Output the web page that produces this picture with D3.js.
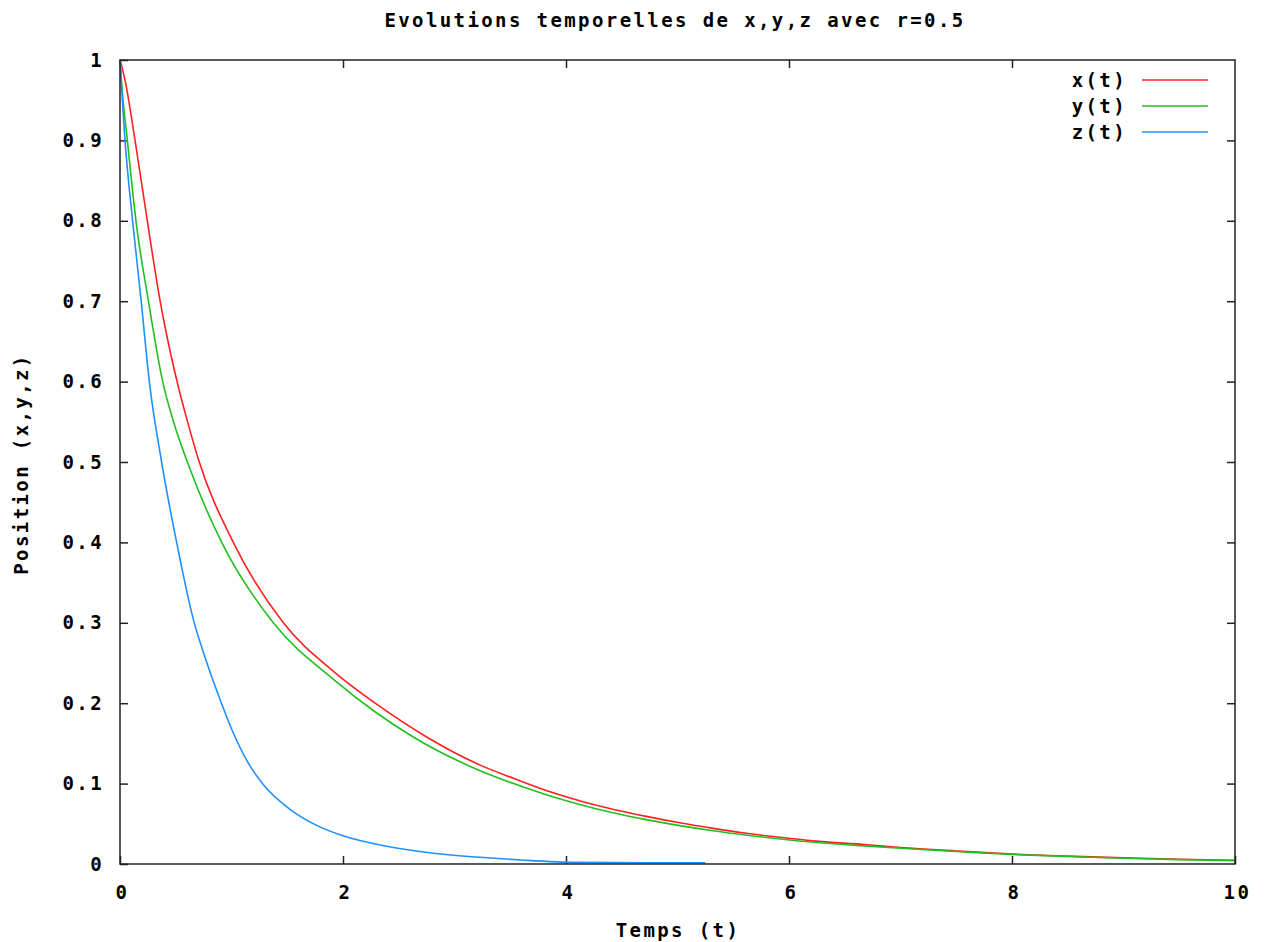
<!DOCTYPE html>
<html>
<head>
<meta charset="utf-8">
<script src="https://cdn.jsdelivr.net/npm/d3@7"></script>
<style>
  body { margin: 0; background: #fff; }
  text { font-family: "DejaVu Sans Mono", monospace; font-weight: bold; font-size: 19px; letter-spacing: 2.4px; fill: #000; }
</style>
</head>
<body>
<div id="chart"></div>
<script>
// valeurs (t, valeur)
const tX = [0, 0.045, 0.135, 0.245, 0.36, 0.42, 0.5, 0.6, 0.711, 1.016, 1.465, 1.92, 2.33, 2.75, 3.23, 3.53, 3.83, 4.13, 4.42, 4.72, 5.02, 5.32, 5.62, 5.92, 6.22, 6.67, 7, 7.5, 8, 8.5, 9, 9.5, 10];
const xVals = [1, 0.975, 0.9, 0.8, 0.7, 0.657, 0.607, 0.553, 0.5, 0.4, 0.3, 0.239, 0.196, 0.158, 0.123, 0.1066, 0.0912, 0.0784, 0.0682, 0.0592, 0.0512, 0.0443, 0.0382, 0.0332, 0.0288, 0.0242, 0.0205, 0.0162, 0.0124, 0.0098, 0.0076, 0.0059, 0.0046];

const tY = [0, 0.02, 0.066, 0.143, 0.255, 0.383, 0.48, 0.604, 0.912, 1.375, 1.92, 2.28, 2.63, 3.23, 3.53, 3.83, 4.13, 4.42, 4.72, 5.02, 5.32, 5.62, 5.92, 6.22, 6.67, 7, 7.5, 8, 8.5, 9, 9.5, 10];
const yVals = [1, 0.962, 0.9, 0.8, 0.7, 0.6, 0.55, 0.5, 0.4, 0.3, 0.229, 0.19, 0.158, 0.116, 0.1, 0.0858, 0.0738, 0.0638, 0.0552, 0.0477, 0.0413, 0.0358, 0.031, 0.027, 0.0225, 0.0195, 0.0156, 0.0119, 0.0093, 0.0071, 0.0055, 0.0042];

const tZ = [0, 0.03, 0.045, 0.113, 0.19, 0.263, 0.373, 0.508, 0.66, 0.76, 0.91, 1.016, 1.166, 1.29, 1.525, 1.764, 2.0, 2.39, 2.81, 3.26, 3.59, 4.1, 5.25];
const zVals = [1, 0.93, 0.9, 0.8, 0.7, 0.6, 0.5, 0.4, 0.303, 0.258, 0.2, 0.163, 0.122, 0.098, 0.068, 0.048, 0.035, 0.022, 0.0133, 0.008, 0.005, 0.002, 0.0015];

const seriesNames = ["x(t)", "y(t)", "z(t)"];
const seriesColors = ["#ff2020", "#20c020", "#2090ff"];
const xTicks = [0, 2, 4, 6, 8, 10];
const yTicks = [0, 0.1, 0.2, 0.3, 0.4, 0.5, 0.6, 0.7, 0.8, 0.9, 1];

const width = 1264, height = 942;
const margin = { top: 60, right: 29, bottom: 78, left: 120 };

const svg = d3.select("#chart").append("svg")
    .attr("width", width)
    .attr("height", height);

const x = d3.scaleLinear().domain([0, 10]).range([margin.left, width - margin.right]);
const y = d3.scaleLinear().domain([0, 1]).range([height - margin.bottom, margin.top]);

const fmtY = d => d === 0 ? "0" : (d === 1 ? "1" : d3.format(".1f")(d));

// axes : graduations vers l'intérieur, en miroir
const axisStyle = g => {
    g.select(".domain").remove();
    g.selectAll(".tick line").attr("stroke", "#222").attr("stroke-width", 1.5);
};
svg.append("g")
    .attr("transform", `translate(0,${y(0)})`)
    .call(d3.axisBottom(x).tickValues(xTicks).tickSize(-8).tickPadding(22).tickFormat(d3.format("d")))
    .call(axisStyle)
    .call(g => g.selectAll(".tick text").attr("dx", "0.1em").style("font-size", "19px").style("font-family", null));
svg.append("g")
    .attr("transform", `translate(0,${y(1)})`)
    .call(d3.axisTop(x).tickValues(xTicks.slice(1, -1)).tickSize(-8).tickFormat(""))
    .call(axisStyle);
svg.append("g")
    .attr("transform", `translate(${x(0)},0)`)
    .call(d3.axisLeft(y).tickValues(yTicks).tickSize(-8).tickPadding(16).tickFormat(fmtY))
    .call(axisStyle)
    .call(g => g.selectAll(".tick text").style("font-size", "19px").style("font-family", null));
svg.append("g")
    .attr("transform", `translate(${x(10)},0)`)
    .call(d3.axisRight(y).tickValues(yTicks.slice(1, -1)).tickSize(-8).tickFormat(""))
    .call(axisStyle);

// courbes
const series = [[tX, xVals], [tY, yVals], [tZ, zVals]];
const line = d3.line().x(d => x(d[0])).y(d => y(d[1])).curve(d3.curveMonotoneX);
series.forEach(([ts, vs], i) => {
    svg.append("path")
        .datum(ts.map((t, j) => [t, vs[j]]))
        .attr("fill", "none")
        .attr("stroke", seriesColors[i])
        .attr("stroke-width", 1.6)
        .attr("d", line);
});

// cadre
svg.append("rect")
    .attr("x", x(0)).attr("y", y(1))
    .attr("width", x(10) - x(0)).attr("height", y(0) - y(1))
    .attr("fill", "none").attr("stroke", "#222").attr("stroke-width", 1.5);

// légende
const legend = svg.append("g").attr("transform", "translate(0,80)");
seriesNames.forEach((name, i) => {
    legend.append("text")
        .attr("x", 1127).attr("y", i * 26)
        .attr("dy", "0.35em")
        .attr("text-anchor", "end")
        .text(name);
    legend.append("line")
        .attr("x1", 1142).attr("x2", 1208)
        .attr("y1", i * 26).attr("y2", i * 26)
        .attr("stroke", seriesColors[i])
        .attr("stroke-width", 1.6);
});

// titres
svg.append("text")
    .attr("x", 675).attr("y", 20).attr("dy", "0.35em")
    .attr("text-anchor", "middle")
    .text("Evolutions temporelles de x,y,z avec r=0.5");
svg.append("text")
    .attr("x", 678).attr("y", 930).attr("dy", "0.35em")
    .attr("text-anchor", "middle")
    .text("Temps (t)");
svg.append("text")
    .attr("transform", "translate(21,464) rotate(-90)")
    .attr("dy", "0.35em")
    .attr("text-anchor", "middle")
    .text("Position (x,y,z)");
</script>
</body>
</html>
